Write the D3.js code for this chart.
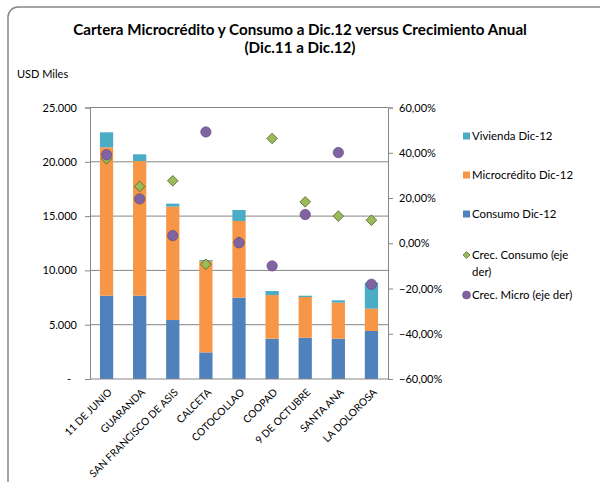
<!DOCTYPE html>
<html>
<head>
<meta charset="utf-8">
<script src="https://cdn.jsdelivr.net/npm/d3@7"></script>
<style>
  body { margin: 0; background: #fff; }
  text { font-family: Lato, "Open Sans", sans-serif; fill: #000; }
</style>
</head>
<body>
<div id="chartContainer"></div>
<script>
const categories = ["11 DE JUNIO", "GUARANDA", "SAN FRANCISCO DE ASIS", "CALCETA", "COTOCOLLAO",
                    "COOPAD", "9 DE OCTUBRE", "SANTA ANA", "LA DOLOROSA"];
const consumo = [7670, 7670, 5430, 2450, 7490, 3710, 3800, 3710, 4420];
const micro = [13665, 12400, 10440, 8420, 7060, 4020, 3750, 3320, 2060];
const vivienda = [1380, 620, 275, 90, 1010, 370, 120, 215, 2390];
const crecConsumo = [0.373, 0.251, 0.276, -0.093, 0.005, 0.463, 0.183, 0.12, 0.102];
const crecMicro = [0.391, 0.196, 0.034, 0.492, 0.002, -0.10, 0.127, 0.401, -0.181];
const leftTicks = [0, 5000, 10000, 15000, 20000, 25000];
const rightTicks = [-0.6, -0.4, -0.2, 0, 0.2, 0.4, 0.6];

const W = 600, H = 482;
const margin = { top: 107.5, right: 212, bottom: 103, left: 90 };
const width = W - margin.left - margin.right,
      height = H - margin.top - margin.bottom;

const svg = d3.select("#chartContainer").append("svg")
    .attr("width", W)
    .attr("height", H);

// outer frame
svg.append("rect")
    .attr("x", 8).attr("y", 7)
    .attr("width", 620).attr("height", 500)
    .attr("rx", 10)
    .attr("fill", "none")
    .attr("stroke", "#868686")
    .attr("stroke-width", 1.5);

svg.append("text").attr("x", 300).attr("y", 35)
    .attr("text-anchor", "middle").attr("font-size", 15.2).attr("font-weight", "bold")
    .text("Cartera Microcrédito y Consumo a Dic.12 versus Crecimiento Anual");
svg.append("text").attr("x", 300).attr("y", 53)
    .attr("text-anchor", "middle").attr("font-size", 15.2).attr("font-weight", "bold")
    .text("(Dic.11 a Dic.12)");
svg.append("text").attr("x", 17).attr("y", 78)
    .attr("font-size", 11).text("USD Miles");

const g = svg.append("g")
    .attr("transform", `translate(${margin.left},${margin.top})`);

const x = d3.scaleBand().domain(categories).range([0, width]).paddingInner(0.6).paddingOuter(0.3);
const y = d3.scaleLinear().domain([0, 25000]).range([height, 0]);
const y2 = d3.scaleLinear().domain([-0.6, 0.6]).range([height, 0]);

// gridlines
g.selectAll(".grid").data(leftTicks.slice(1)).enter().append("line")
    .attr("x1", 0).attr("x2", width)
    .attr("y1", d => y(d)).attr("y2", d => y(d))
    .attr("stroke", "#868686").attr("stroke-width", 1);

const fmtLeft = d => d === 0 ? "-" : d3.format(",")(d).replace(/,/g, ".");
const yAxis = g.append("g")
    .call(d3.axisLeft(y).tickValues(leftTicks).tickFormat(fmtLeft).tickSize(5).tickPadding(8));
yAxis.selectAll("text").attr("font-size", 11)
    .attr("dx", d => d === 0 ? -6 : 0);

const fmtRight = d => d3.format(".2f")(d * 100).replace(".", ",") + "%";
const yAxis2 = g.append("g").attr("transform", `translate(${width},0)`)
    .call(d3.axisRight(y2).tickValues(rightTicks).tickFormat(fmtRight).tickSize(5).tickPadding(6));
yAxis2.selectAll("text").attr("font-size", 11);

[yAxis, yAxis2].forEach(a => {
    a.select(".domain").attr("stroke", "#868686");
    a.selectAll(".tick line").attr("stroke", "#868686");
});

// stacked bars
const rows = categories.map((c, i) => ({ cat: c, consumo: consumo[i], micro: micro[i], vivienda: vivienda[i] }));
const stack = d3.stack().keys(["consumo", "micro", "vivienda"])(rows);
const colors = { consumo: "#4F81BD", micro: "#F79646", vivienda: "#4BACC6" };

stack.forEach(layer => {
    g.selectAll(`.bar-${layer.key}`).data(layer).enter().append("rect")
        .attr("x", d => x(d.data.cat))
        .attr("width", x.bandwidth())
        .attr("y", d => y(d[1]))
        .attr("height", d => y(d[0]) - y(d[1]))
        .attr("fill", colors[layer.key]);
});

// bottom axis line
g.append("line").attr("x1", 0).attr("x2", width)
    .attr("y1", height).attr("y2", height)
    .attr("stroke", "#868686");

// x labels
g.selectAll(".xlab").data(categories).enter().append("text")
    .attr("text-anchor", "end")
    .attr("font-size", 10.3)
    .attr("transform", d => `translate(${x(d) + x.bandwidth() / 2 + 6},${height + 14}) rotate(-45)`)
    .text(d => d);

// markers
const diamond = d3.symbol().type(d3.symbolDiamond2).size(72);
g.selectAll(".dia").data(crecConsumo).enter().append("path")
    .attr("d", diamond)
    .attr("transform", (d, i) => `translate(${x(categories[i]) + x.bandwidth() / 2},${y2(d)})`)
    .attr("fill", "#9BBB59").attr("stroke", "#4F6228").attr("stroke-width", 0.8);

g.selectAll(".dot").data(crecMicro).enter().append("circle")
    .attr("cx", (d, i) => x(categories[i]) + x.bandwidth() / 2)
    .attr("cy", d => y2(d))
    .attr("r", 5.2)
    .attr("fill", "#8064A2").attr("stroke", "#5C4776").attr("stroke-width", 0.6);

// legend
const lg = svg.append("g").attr("transform", "translate(463,0)");
const legendItems = [
    { type: "rect", color: colors.vivienda, lines: ["Vivienda Dic-12"], y: 136 },
    { type: "rect", color: colors.micro, lines: ["Microcrédito Dic-12"], y: 175 },
    { type: "rect", color: colors.consumo, lines: ["Consumo Dic-12"], y: 214 },
    { type: "dia", lines: ["Crec. Consumo (eje", "der)"], y: 255 },
    { type: "dot", lines: ["Crec. Micro (eje der)"], y: 295 }
];
legendItems.forEach(it => {
    if (it.type === "rect") {
        lg.append("rect").attr("x", 0).attr("y", it.y - 3.5).attr("width", 7).attr("height", 7).attr("fill", it.color);
    } else if (it.type === "dia") {
        lg.append("path").attr("d", d3.symbol().type(d3.symbolDiamond2).size(30))
            .attr("transform", `translate(3.5,${it.y})`)
            .attr("fill", "#9BBB59").attr("stroke", "#4F6228").attr("stroke-width", 0.7);
    } else {
        lg.append("circle").attr("cx", 3.5).attr("cy", it.y).attr("r", 4)
            .attr("fill", "#8064A2").attr("stroke", "#5C4776").attr("stroke-width", 0.5);
    }
    it.lines.forEach((t, k) => {
        lg.append("text").attr("x", 9).attr("y", it.y + 4 + k * 17)
            .attr("font-size", 11.4).text(t);
    });
});
</script>
</body>
</html>
